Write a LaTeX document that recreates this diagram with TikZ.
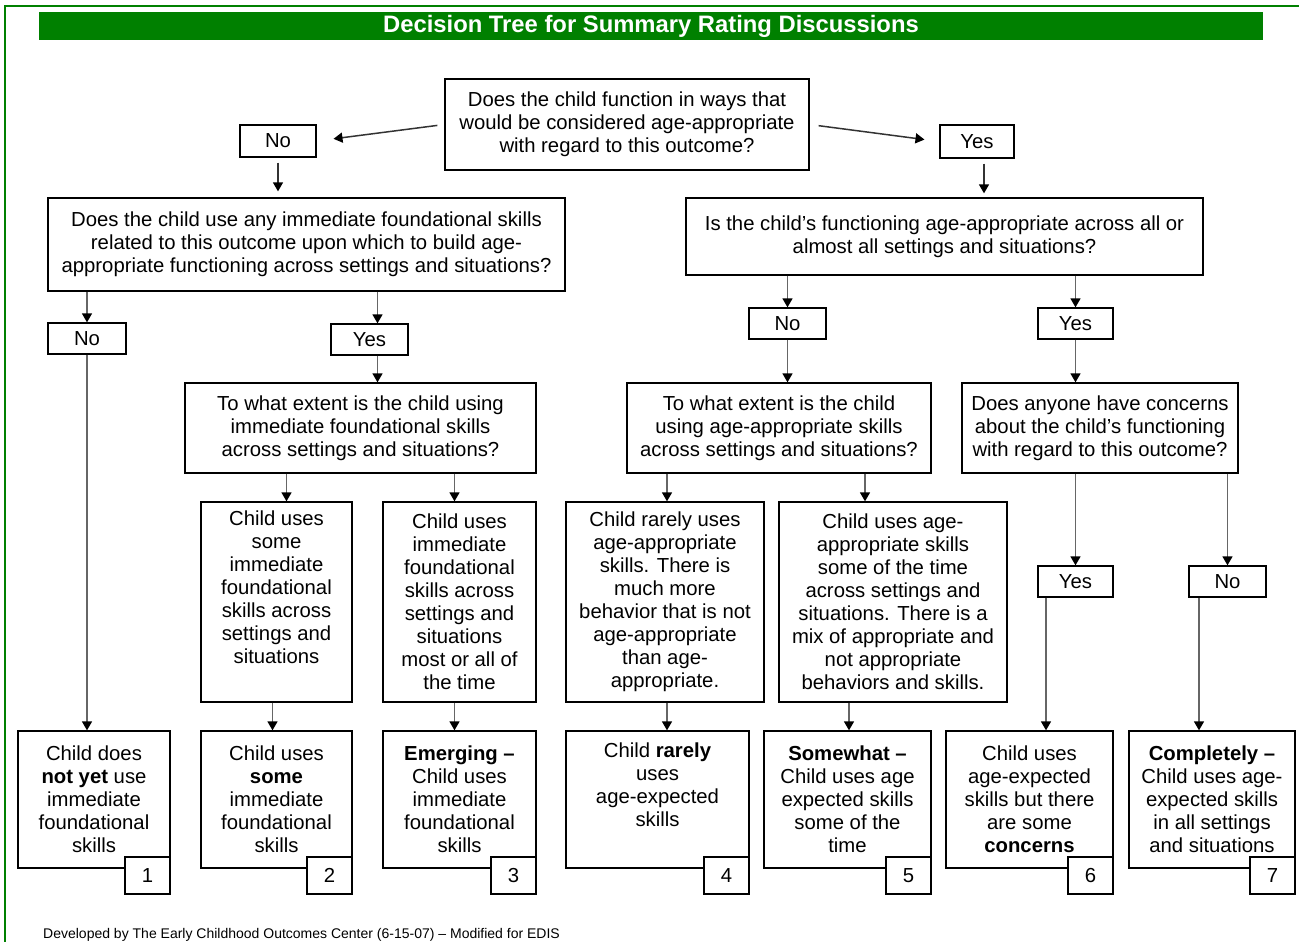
\documentclass[tikz,border=0pt]{standalone}
\usepackage{fontspec}
\setmainfont{Liberation Sans}
\usetikzlibrary{arrows.meta}
\definecolor{bargreen}{RGB}{0,128,0}

\tikzset{
  box/.style={draw, line width=1.3pt, align=center, inner sep=0pt,
    font=\fontsize{20.3}{23}\selectfont},
  numbox/.style={box, fill=white, minimum width=45, minimum height=37,
    anchor=south east},
  link/.style={draw=black!60, line width=1.5pt,
    -{Triangle[black, length=9pt, width=10pt]}}
}

\begin{document}
\begin{tikzpicture}[x=1pt, y=-1pt]
\useasboundingbox (0,0) rectangle (1299,942);

\draw[bargreen, line width=2.5pt] (1299,6) -- (5,6) -- (5,942);
\node[fill=bargreen, text=white, minimum width=1224, minimum height=28, inner sep=0pt,
  font=\fontsize{23.8}{26}\selectfont\bfseries] (title) at (651,26) {\raisebox{-2pt}{Decision Tree for Summary Rating Discussions}};

\node[box, minimum width=364, minimum height=91] (q1) at (627,124.5) {Does the child function in ways that\\would be considered age-appropriate\\with regard to this outcome?};
\node[box, minimum width=76, minimum height=32] (no1) at (278,141) {No};
\node[box, minimum width=74, minimum height=33] (yes1) at (977,141.5) {Yes};

\node[box, minimum width=517, minimum height=93] (q2l) at (306.5,244.5) {Does the child use any immediate foundational skills\\related to this outcome upon which to build age-\\appropriate functioning across settings and situations?};
\node[box, minimum width=517, minimum height=77] (q2r) at (944.5,236.5) {Is the child’s functioning age-appropriate across all or\\almost all settings and situations?};

\node[box, minimum width=78, minimum height=31] (no2) at (87,338.5) {No};
\node[box, minimum width=77, minimum height=31] (yes2) at (369.5,339.5) {Yes};
\node[box, minimum width=77, minimum height=31] (noR) at (787.5,323.5) {No};
\node[box, minimum width=75, minimum height=31] (yesR) at (1075.5,323.5) {Yes};

\node[box, minimum width=351, minimum height=90] (q3a) at (360.5,428) {To what extent is the child using\\immediate foundational skills\\across settings and situations?};
\node[box, minimum width=304, minimum height=90] (q3b) at (779,428) {To what extent is the child\\using age-appropriate skills\\across settings and situations?};
\node[box, minimum width=276, minimum height=90] (q3c) at (1100,428) {Does anyone have concerns\\about the child’s functioning\\with regard to this outcome?};

\node[box, minimum width=151, minimum height=200] (mid1) at (276.5,602) {Child uses\\some\\immediate\\foundational\\skills across\\settings and\\situations\\\strut};
\node[box, minimum width=153, minimum height=200] (mid2) at (459.5,602) {Child uses\\immediate\\foundational\\skills across\\settings and\\situations\\most or all of\\the time};
\node[box, minimum width=198, minimum height=200] (mid3) at (665,602) {Child rarely uses\\age-appropriate\\skills. There is\\much more\\behavior that is not\\age-appropriate\\than age-\\appropriate.};
\node[box, minimum width=228, minimum height=200] (mid4) at (893,602) {Child uses age-\\appropriate skills\\some of the time\\across settings and\\situations. There is a\\mix of appropriate and\\not appropriate\\behaviors and skills.};

\node[box, minimum width=75, minimum height=31] (yesC) at (1075.5,581.5) {Yes};
\node[box, minimum width=77, minimum height=31] (noC) at (1227.5,581.5) {No};

\node[box, minimum width=152, minimum height=137] (box1) at (94,799.5) {Child does\\\textbf{not yet} use\\immediate\\foundational\\skills};
\node[box, minimum width=151, minimum height=137] (box2) at (276.5,799.5) {Child uses\\\textbf{some}\\immediate\\foundational\\skills};
\node[box, minimum width=153, minimum height=137] (box3) at (459.5,799.5) {\textbf{Emerging –}\\Child uses\\immediate\\foundational\\skills};
\node[box, minimum width=183, minimum height=137] (box4) at (657.5,799.5) {Child \textbf{rarely}\\uses\\age-expected\\skills\\\strut};
\node[box, minimum width=167, minimum height=137] (box5) at (847.5,799.5) {\textbf{Somewhat –}\\Child uses age\\expected skills\\some of the\\time};
\node[box, minimum width=167, minimum height=137] (box6) at (1029.5,799.5) {Child uses\\age-expected\\skills but there\\are some\\\textbf{concerns}};
\node[box, minimum width=166, minimum height=137] (box7) at (1212,799.5) {\textbf{Completely –}\\Child uses age-\\expected skills\\in all settings\\and situations};

\node[numbox] (n1) at ([yshift=-26pt]box1.south east) {1};
\node[numbox] (n2) at ([yshift=-26pt]box2.south east) {2};
\node[numbox] (n3) at ([yshift=-26pt]box3.south east) {3};
\node[numbox] (n4) at ([yshift=-26pt]box4.south east) {4};
\node[numbox] (n5) at ([yshift=-26pt]box5.south east) {5};
\node[numbox] (n6) at ([yshift=-26pt]box6.south east) {6};
\node[numbox] (n7) at ([yshift=-26pt]box7.south east) {7};

\node[anchor=west, inner sep=0pt, font=\fontsize{14}{16}\selectfont] (foot) at (43,935) {Developed by The Early Childhood Outcomes Center (6-15-07) – Modified for EDIS};

\draw[link, draw=black!80, shorten <=7pt, shorten >=17pt] (q1.west) -- (no1.east);
\draw[link, draw=black!80, shorten <=9pt, shorten >=15pt] (q1.east) -- (yes1.west);
\draw[link, draw=black!80, shorten <=5pt, shorten >=6pt] (no1.south) -- (no1.south |- q2l.north);
\draw[link, draw=black!80, shorten <=5pt, shorten >=4pt] ([xshift=7pt]yes1.south) -- ([xshift=7pt]yes1.south |- q2r.north);

\draw[link] (no2.north |- q2l.south) -- (no2.north);
\draw[link] ([xshift=8pt]yes2.north |- q2l.south) -- ([xshift=8pt]yes2.north);
\draw[link] ([xshift=8pt]yes2.south) -- ([xshift=8pt]yes2.south |- q3a.north);
\draw[link] (no2.south) -- (no2.south |- box1.north);
\draw[link] ([xshift=10pt]mid1.north |- q3a.south) -- ([xshift=10pt]mid1.north);
\draw[link] ([xshift=-5pt]mid2.north |- q3a.south) -- ([xshift=-5pt]mid2.north);
\draw[link] ([xshift=-4pt]box2.north |- mid1.south) -- ([xshift=-4pt]box2.north);
\draw[link] ([xshift=-5pt]box3.north |- mid2.south) -- ([xshift=-5pt]box3.north);

\draw[link] (noR.north |- q2r.south) -- (noR.north);
\draw[link] (yesR.north |- q2r.south) -- (yesR.north);
\draw[link] (noR.south) -- (noR.south |- q3b.north);
\draw[link] (yesR.south) -- (yesR.south |- q3c.north);
\draw[link] ([xshift=2pt]mid3.north |- q3b.south) -- ([xshift=2pt]mid3.north);
\draw[link] ([xshift=-28pt]mid4.north |- q3b.south) -- ([xshift=-28pt]mid4.north);
\draw[link] ([xshift=9.5pt]box4.north |- mid3.south) -- ([xshift=9.5pt]box4.north);
\draw[link] ([xshift=1.5pt]box5.north |- mid4.south) -- ([xshift=1.5pt]box5.north);
\draw[link] (yesC.north |- q3c.south) -- (yesC.north);
\draw[link] (noC.north |- q3c.south) -- (noC.north);
\draw[link] ([xshift=16.5pt]box6.north |- yesC.south) -- ([xshift=16.5pt]box6.north);
\draw[link] ([xshift=-13pt]box7.north |- noC.south) -- ([xshift=-13pt]box7.north);

\end{tikzpicture}
\end{document}
